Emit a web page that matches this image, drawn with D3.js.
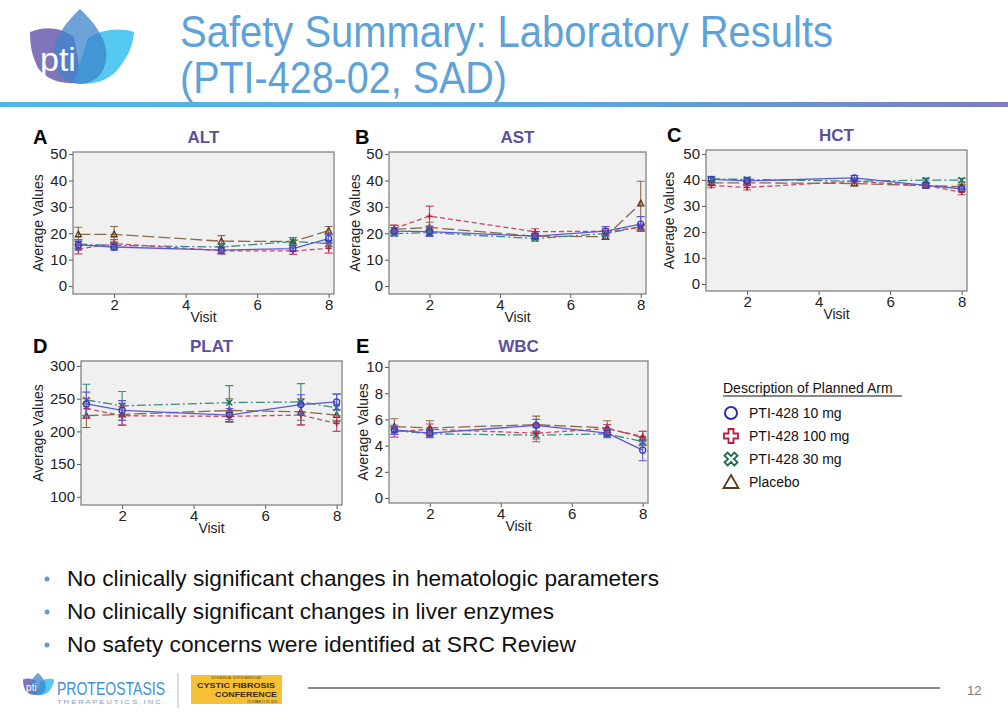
<!DOCTYPE html>
<html><head><meta charset="utf-8">
<script src="https://cdn.jsdelivr.net/npm/d3@7"></script>
<style>
html,body{margin:0;padding:0;background:#fff;}
svg{display:block;font-family:"Liberation Sans",Arial,sans-serif;}
</style></head>
<body>
<svg id="c" width="1008" height="720"></svg>
<script>
// ---------------- DATA ----------------
const visits = [1, 2, 5, 7, 8];
const arms = ["PTI-428 10 mg", "PTI-428 100 mg", "PTI-428 30 mg", "Placebo"];
const xTicks = [2, 4, 6, 8];

// ALT
const ALT_10 = [15.6, 14.8, 13.6, 14.2, 18.0];
const ALT_10_ERR = [2.0, 1.2, 1.2, 1.2, 1.6];
const ALT_100 = [14.0, 16.1, 13.4, 13.3, 14.3];
const ALT_100_ERR = [1.8, 1.5, 1.3, 1.3, 1.8];
const ALT_30 = [15.9, 15.4, 14.8, 16.9, 16.1];
const ALT_30_ERR = [1.6, 1.3, 1.2, 1.5, 1.2];
const ALT_PBO = [19.6, 19.6, 17.0, 16.9, 21.0];
const ALT_PBO_ERR = [2.7, 3.0, 2.1, 1.5, 1.6];

// AST
const AST_10 = [20.8, 20.6, 18.9, 20.8, 23.5];
const AST_10_ERR = [1.4, 1.8, 1.1, 1.8, 2.8];
const AST_100 = [21.8, 26.5, 20.6, 20.8, 22.1];
const AST_100_ERR = [1.3, 3.8, 1.1, 1.1, 1.1];
const AST_30 = [19.9, 20.2, 18.0, 19.9, 22.5];
const AST_30_ERR = [1.0, 1.0, 1.0, 1.0, 1.0];
const AST_PBO = [21.5, 22.2, 18.9, 18.7, 31.3];
const AST_PBO_ERR = [1.5, 2.0, 1.0, 1.0, 8.4];

// HCT
const HCT_10 = [40.2, 39.6, 40.8, 37.9, 36.6];
const HCT_10_ERR = [0.9, 0.8, 0.9, 0.8, 1.0];
const HCT_100 = [37.9, 37.1, 39.5, 37.8, 35.3];
const HCT_100_ERR = [0.9, 1.0, 0.8, 0.8, 1.0];
const HCT_30 = [40.4, 40.2, 39.5, 39.9, 39.9];
const HCT_30_ERR = [0.8, 0.8, 0.8, 0.8, 0.7];
const HCT_PBO = [38.9, 38.9, 38.6, 37.8, 37.4];
const HCT_PBO_ERR = [0.8, 0.8, 0.8, 0.8, 0.9];

// PLAT
const PLAT_10 = [242, 232, 225, 241, 245];
const PLAT_10_ERR = [18, 15, 10, 15, 12];
const PLAT_100 = [235, 224, 223, 225, 212];
const PLAT_100_ERR = [15, 14, 8, 15, 12];
const PLAT_30 = [248, 239, 244, 245, 236];
const PLAT_30_ERR = [24, 22, 26, 28, 21];
const PLAT_PBO = [224, 226, 232, 230, 225];
const PLAT_PBO_ERR = [18, 17, 18, 20, 8];

// WBC
const WBC_10 = [5.2, 4.95, 5.55, 4.95, 3.65];
const WBC_10_ERR = [0.35, 0.3, 0.45, 0.3, 0.8];
const WBC_100 = [5.05, 5.25, 4.95, 5.3, 4.7];
const WBC_100_ERR = [0.4, 0.4, 0.65, 0.3, 0.4];
const WBC_30 = [5.15, 4.9, 4.8, 4.9, 4.3];
const WBC_30_ERR = [0.3, 0.3, 0.3, 0.3, 0.3];
const WBC_PBO = [5.45, 5.35, 5.6, 5.35, 4.6];
const WBC_PBO_ERR = [0.6, 0.55, 0.65, 0.55, 0.5];

const ALT_TICKS = [0, 10, 20, 30, 40, 50];
const PLAT_TICKS = [100, 150, 200, 250, 300];
const WBC_TICKS = [0, 2, 4, 6, 8, 10];

const bullets = [
  "No clinically significant changes in hematologic parameters",
  "No clinically significant changes in liver enzymes",
  "No safety concerns were identified at SRC Review"
];

// ---------------- STYLES ----------------
const armStyle = [
  {line: "#5a5ad6", mark: "#3a3ab8", dash: null, sym: "circle"},
  {line: "#c8486a", mark: "#b0203c", dash: "5,3", sym: "plus"},
  {line: "#3a8c7c", mark: "#1a6a58", dash: "9,3,2,3", sym: "x"},
  {line: "#8a6a4a", mark: "#5a3a1a", dash: "12,4", sym: "tri"}
];

const svg = d3.select("#c");

function fit(sel, w) { sel.attr("textLength", w).attr("lengthAdjust", "spacingAndGlyphs"); return sel; }

// ---------------- HEADER ----------------
const defs = svg.append("defs");
const grad = defs.append("linearGradient").attr("id", "bar").attr("x1", 0).attr("x2", 1);
grad.append("stop").attr("offset", 0).attr("stop-color", "#4db8e8");
grad.append("stop").attr("offset", 0.6).attr("stop-color", "#5aa6dc");
grad.append("stop").attr("offset", 1).attr("stop-color", "#7d7cc0");
svg.append("rect").attr("x", 0).attr("y", 102).attr("width", 1008).attr("height", 5).attr("fill", "url(#bar)");

function logo(g) {
  g.append("path").attr("d", "M30,32 C46,25 62,28 74,37 L82,82 C62,86 46,79 38,68 C32,56 30,46 30,32 Z")
    .attr("fill", "#7b6db6").attr("opacity", 0.95);
  g.append("path").attr("d", "M134,32 C118,27 100,30 88,38 L74,82 C92,87 110,80 119,68 C128,56 133,46 134,32 Z")
    .attr("fill", "#4cc6f0").attr("opacity", 0.95);
  g.append("path").attr("d", "M80,9 C96,24 109,42 106,60 C104,75 93,84 80,84 C67,84 56,75 54,60 C51,42 64,24 80,9 Z")
    .attr("fill", "#3d84cc").attr("opacity", 0.75);
  g.append("text").attr("x", 40).attr("y", 71).attr("font-size", 34).attr("fill", "#fff")
    .attr("font-family", "'Liberation Sans',Arial,sans-serif").text("pti");
}
logo(svg.append("g"));

fit(svg.append("text").attr("x", 180).attr("y", 47).attr("font-size", 44).attr("fill", "#5ea2d8")
  .text("Safety Summary: Laboratory Results"), 653);
fit(svg.append("text").attr("x", 180).attr("y", 93).attr("font-size", 44).attr("fill", "#5ea2d8")
  .text("(PTI-428-02, SAD)"), 327);

// ---------------- PANELS ----------------
const panels = [
  {letter: "A", title: "ALT", x0: 73, x1: 334, y0: 152, y1: 294, dom: [-3.0, 50.8], ticks: ALT_TICKS, lab: -35,
   s: [ALT_10, ALT_100, ALT_30, ALT_PBO], e: [ALT_10_ERR, ALT_100_ERR, ALT_30_ERR, ALT_PBO_ERR], lx: 33},
  {letter: "B", title: "AST", x0: 389, x1: 646, y0: 152, y1: 294, dom: [-3.0, 50.8], ticks: ALT_TICKS, lab: -34,
   s: [AST_10, AST_100, AST_30, AST_PBO], e: [AST_10_ERR, AST_100_ERR, AST_30_ERR, AST_PBO_ERR], lx: 355},
  {letter: "C", title: "HCT", x0: 706, x1: 967, y0: 150, y1: 291, dom: [-2.7, 51.5], ticks: ALT_TICKS, lab: -37,
   s: [HCT_10, HCT_100, HCT_30, HCT_PBO], e: [HCT_10_ERR, HCT_100_ERR, HCT_30_ERR, HCT_PBO_ERR], lx: 667},
  {letter: "D", title: "PLAT", x0: 81, x1: 342, y0: 361, y1: 505, dom: [87.5, 307.6], ticks: PLAT_TICKS, lab: -43,
   s: [PLAT_10, PLAT_100, PLAT_30, PLAT_PBO], e: [PLAT_10_ERR, PLAT_100_ERR, PLAT_30_ERR, PLAT_PBO_ERR], lx: 33},
  {letter: "E", title: "WBC", x0: 389, x1: 648, y0: 361, y1: 503, dom: [-0.38, 10.46], ticks: WBC_TICKS, lab: -26,
   s: [WBC_10, WBC_100, WBC_30, WBC_PBO], e: [WBC_10_ERR, WBC_100_ERR, WBC_30_ERR, WBC_PBO_ERR], lx: 356}
];

function drawMarker(g, sym, x, y, col, r) {
  if (sym === "circle") {
    g.append("circle").attr("cx", x).attr("cy", y).attr("r", r).attr("fill", "none").attr("stroke", col).attr("stroke-width", 1.3);
  } else if (sym === "plus") {
    g.append("path").attr("d", `M${x - r},${y}H${x + r}M${x},${y - r}V${y + r}`).attr("stroke", col).attr("stroke-width", 1.5);
  } else if (sym === "x") {
    g.append("path").attr("d", `M${x - r},${y - r}L${x + r},${y + r}M${x - r},${y + r}L${x + r},${y - r}`).attr("stroke", col).attr("stroke-width", 1.4);
  } else {
    g.append("path").attr("d", `M${x},${y - r * 1.1}L${x + r},${y + r * 0.8}L${x - r},${y + r * 0.8}Z`).attr("fill", "none").attr("stroke", col).attr("stroke-width", 1.3);
  }
}

panels.forEach(p => {
  const g = svg.append("g");
  const x = d3.scaleLinear().domain([0.85, 8.15]).range([p.x0, p.x1]);
  const y = d3.scaleLinear().domain(p.dom).range([p.y1, p.y0]);

  g.append("rect").attr("x", p.x0).attr("y", p.y0).attr("width", p.x1 - p.x0).attr("height", p.y1 - p.y0)
    .attr("fill", "#f0f0f0");

  const ya = g.append("g").attr("transform", `translate(${p.x0},0)`)
    .call(d3.axisLeft(y).tickValues(p.ticks).tickSize(4).tickPadding(2).tickFormat(d3.format("d")));
  const xa = g.append("g").attr("transform", `translate(0,${p.y1})`)
    .call(d3.axisBottom(x).tickValues(xTicks).tickSize(4).tickPadding(1).tickFormat(d3.format("d")));
  [ya, xa].forEach(a => {
    a.select(".domain").remove();
    a.selectAll("line").attr("stroke", "#555");
    a.selectAll("text").attr("font-size", 15).attr("fill", "#222")
      .attr("font-family", "'Liberation Sans',Arial,sans-serif");
  });

  g.append("rect").attr("x", p.x0).attr("y", p.y0).attr("width", p.x1 - p.x0).attr("height", p.y1 - p.y0)
    .attr("fill", "none").attr("stroke", "#7a7a7a").attr("stroke-width", 1.2);

  [3, 2, 1, 0].forEach(i => {
    const st = armStyle[i];
    const vals = p.s[i], err = p.e[i];
    const pts = visits.map((v, k) => [x(v), y(vals[k])]);
    g.append("path").attr("d", d3.line()(pts)).attr("fill", "none").attr("stroke", st.line)
      .attr("stroke-width", 1.3).attr("stroke-dasharray", st.dash);
    visits.forEach((v, k) => {
      const cx = x(v), lo = y(vals[k] - err[k]), hi = y(vals[k] + err[k]);
      g.append("path").attr("d", `M${cx},${lo}V${hi}M${cx - 4},${lo}H${cx + 4}M${cx - 4},${hi}H${cx + 4}`)
        .attr("stroke", st.line).attr("stroke-width", 1.1).attr("fill", "none");
      drawMarker(g, st.sym, cx, y(vals[k]), st.mark, 3);
    });
  });

  const cxm = (p.x0 + p.x1) / 2;
  g.append("text").attr("x", cxm).attr("y", p.y0 - 9).attr("text-anchor", "middle").attr("font-size", 17)
    .attr("font-weight", "bold").attr("fill", "#5c4f9c").text(p.title);
  g.append("text").attr("x", p.lx).attr("y", p.y0 - 8).attr("font-size", 20).attr("font-weight", "bold")
    .attr("fill", "#000").text(p.letter);
  g.append("text").attr("x", cxm).attr("y", p.y1 + 28).attr("text-anchor", "middle").attr("font-size", 14)
    .attr("fill", "#222").text("Visit");
  const my = (p.y0 + p.y1) / 2, mx = p.x0 + p.lab;
  g.append("text").attr("transform", `translate(${mx},${my}) rotate(-90)`).attr("text-anchor", "middle")
    .attr("dominant-baseline", "central").attr("font-size", 14).attr("fill", "#222").text("Average Values");
});

// ---------------- LEGEND ----------------
const lg = svg.append("g");
lg.append("text").attr("x", 723).attr("y", 393).attr("font-size", 14).attr("fill", "#111").text("Description of Planned Arm");
lg.append("line").attr("x1", 723).attr("x2", 902).attr("y1", 396).attr("y2", 396).attr("stroke", "#111").attr("stroke-width", 1);
const legY = [413, 436, 459, 482];
const legCol = ["#2b2bb0", "#b81c38", "#1a6a50", "#5a3a1a"];
arms.forEach((a, i) => {
  const cy = legY[i], cx = 731;
  if (i === 0) {
    lg.append("circle").attr("cx", cx).attr("cy", cy).attr("r", 6).attr("fill", "none").attr("stroke", legCol[i]).attr("stroke-width", 2);
  } else if (i === 1) {
    const a1 = 2.5, b = 7;
    lg.append("path").attr("d", `M${cx - a1},${cy - b}H${cx + a1}V${cy - a1}H${cx + b}V${cy + a1}H${cx + a1}V${cy + b}H${cx - a1}V${cy + a1}H${cx - b}V${cy - a1}H${cx - a1}Z`)
      .attr("fill", "none").attr("stroke", legCol[i]).attr("stroke-width", 1.8);
  } else if (i === 2) {
    const pts = [];
    const d = 2.2, L = 7;
    const arm = ang => {
      const c = Math.cos(ang), s = Math.sin(ang);
      return [[L * c - d * s, L * s + d * c], [L * c + d * s, L * s - d * c]];
    };
    [Math.PI / 4, 3 * Math.PI / 4, 5 * Math.PI / 4, 7 * Math.PI / 4].forEach(ang => {
      const [p1, p2] = arm(ang);
      pts.push(p2, p1);
      const mid = ang + Math.PI / 4;
      pts.push([Math.cos(mid) * d * 1.3, Math.sin(mid) * d * 1.3]);
    });
    lg.append("path").attr("d", "M" + pts.map(q => `${cx + q[0]},${cy + q[1]}`).join("L") + "Z")
      .attr("fill", "none").attr("stroke", legCol[i]).attr("stroke-width", 1.8);
  } else {
    lg.append("path").attr("d", `M${cx},${cy - 7}L${cx + 7.5},${cy + 6}L${cx - 7.5},${cy + 6}Z`)
      .attr("fill", "none").attr("stroke", legCol[i]).attr("stroke-width", 1.8);
  }
  lg.append("text").attr("x", 749).attr("y", cy + 5).attr("font-size", 14).attr("fill", "#111").text(a);
});

// ---------------- BULLETS ----------------
const bulletY = [586, 619, 652];
const bulletW = [592, 487, 509];
bullets.forEach((b, i) => {
  svg.append("circle").attr("cx", 47).attr("cy", bulletY[i] - 7).attr("r", 2.5).attr("fill", "#5b9fd6");
  fit(svg.append("text").attr("x", 67).attr("y", bulletY[i]).attr("font-size", 22).attr("fill", "#111").text(b), bulletW[i]);
});

// ---------------- FOOTER ----------------
const fl = svg.append("g").attr("transform", "translate(14,670) scale(0.3)");
logo(fl);
fit(svg.append("text").attr("x", 57).attr("y", 695).attr("font-size", 19).attr("fill", "#3d90d4").text("PROTEOSTASIS"), 108);
fit(svg.append("text").attr("x", 57).attr("y", 704).attr("font-size", 4.5).attr("fill", "#7aa0c8").text("T H E R A P E U T I C S ,  I N C ."), 108);
svg.append("line").attr("x1", 178).attr("x2", 178).attr("y1", 673).attr("y2", 708).attr("stroke", "#bbb");
svg.append("rect").attr("x", 191).attr("y", 675).attr("width", 91).attr("height", 29).attr("fill", "#f6c034");
fit(svg.append("text").attr("x", 236).attr("y", 679).attr("text-anchor", "middle").attr("font-size", 3.5).attr("fill", "#6a4a10").text("30TH ANNUAL NORTH AMERICAN"), 50);
fit(svg.append("text").attr("x", 236).attr("y", 688).attr("text-anchor", "middle").attr("font-size", 8).attr("font-weight", "bold").attr("fill", "#3a2a10").text("CYSTIC FIBROSIS"), 78);
fit(svg.append("text").attr("x", 277).attr("y", 697).attr("text-anchor", "end").attr("font-size", 8).attr("font-weight", "bold").attr("fill", "#3a2a10").text("CONFERENCE"), 62);
fit(svg.append("text").attr("x", 277).attr("y", 702.5).attr("text-anchor", "end").attr("font-size", 3).attr("fill", "#3a2a10").text("OCTOBER 27-29, 2016"), 30);
svg.append("line").attr("x1", 308).attr("x2", 940).attr("y1", 688).attr("y2", 688).attr("stroke", "#888").attr("stroke-width", 2);
svg.append("text").attr("x", 967).attr("y", 695).attr("font-size", 13).attr("fill", "#777").text("12");
</script>
</body></html>
